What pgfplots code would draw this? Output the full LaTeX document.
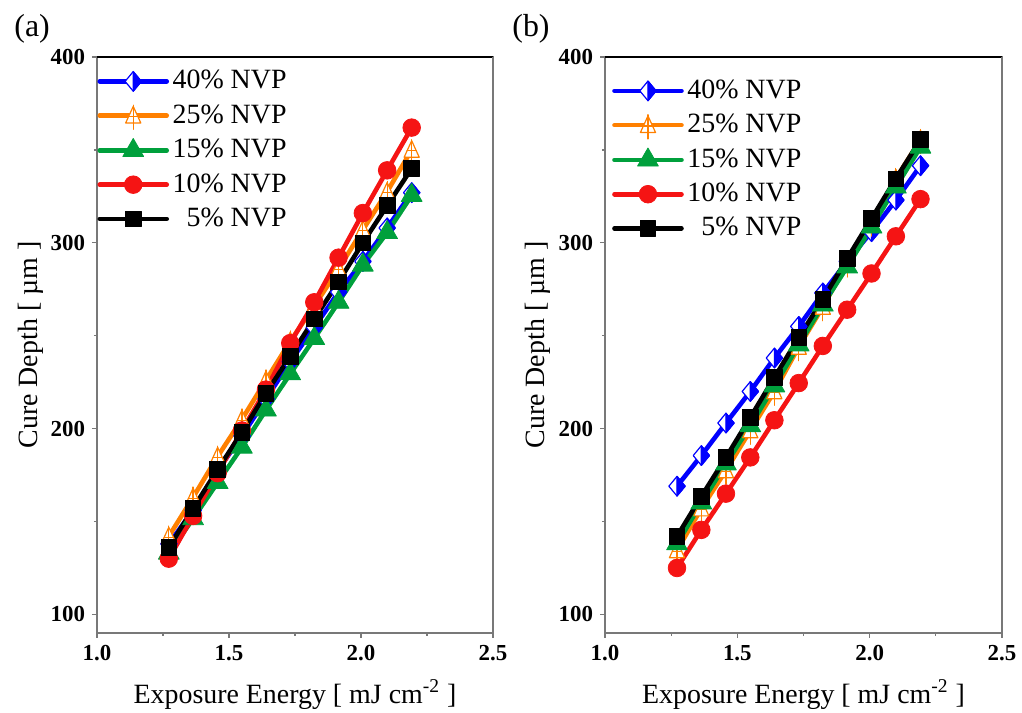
\documentclass[border=0pt]{standalone}
\usepackage{fontspec}
\setmainfont{Liberation Serif}
\usepackage{pgfplots}
\usepackage{pgfplotstable}
\pgfplotsset{compat=1.18}

\definecolor{cblue}{RGB}{0,0,255}
\definecolor{corange}{RGB}{255,128,0}
\definecolor{cgreen}{RGB}{0,160,60}
\definecolor{cred}{RGB}{245,20,20}
\definecolor{caxis}{RGB}{120,120,120}

\pgfdeclareplotmark{halfdiamond}{%
  \pgfpathmoveto{\pgfqpoint{0pt}{\pgfplotmarksize}}%
  \pgfpathlineto{\pgfqpoint{0.83\pgfplotmarksize}{0pt}}%
  \pgfpathlineto{\pgfqpoint{0pt}{-\pgfplotmarksize}}%
  \pgfpathlineto{\pgfqpoint{-0.83\pgfplotmarksize}{0pt}}%
  \pgfpathclose
  \pgfsetfillcolor{white}\pgfusepathqfillstroke
  \pgfpathmoveto{\pgfqpoint{0pt}{\pgfplotmarksize}}%
  \pgfpathlineto{\pgfqpoint{0.83\pgfplotmarksize}{0pt}}%
  \pgfpathlineto{\pgfqpoint{0pt}{-\pgfplotmarksize}}%
  \pgfpathclose
  \pgfsetfillcolor{cblue}\pgfusepathqfillstroke
}
\pgfdeclareplotmark{triplus}{%
  \pgfpathmoveto{\pgfqpoint{0pt}{\pgfplotmarksize}}%
  \pgfpathlineto{\pgfqpoint{0.82\pgfplotmarksize}{-0.8\pgfplotmarksize}}%
  \pgfpathlineto{\pgfqpoint{-0.82\pgfplotmarksize}{-0.8\pgfplotmarksize}}%
  \pgfpathclose
  \pgfsetfillcolor{white}\pgfusepathqfillstroke
  \pgfpathmoveto{\pgfqpoint{0pt}{1.12\pgfplotmarksize}}%
  \pgfpathlineto{\pgfqpoint{0pt}{-1.5\pgfplotmarksize}}%
  \pgfpathmoveto{\pgfqpoint{-0.5\pgfplotmarksize}{-0.1\pgfplotmarksize}}%
  \pgfpathlineto{\pgfqpoint{0.5\pgfplotmarksize}{-0.1\pgfplotmarksize}}%
  \pgfusepathqstroke
}

\pgfplotstableread{
x      blue   orange green  red    black
1.272  138    142    133    130    136
1.364  156    163    151.5  153    157
1.457  177.5  185    171    176    178
1.549  196    205    190    199    198
1.640  216    226    210    221    219
1.732  236    247    229.5  246    239
1.823  254.5  266    248.5  268    259
1.915  273.5  286    268    292    279
2.007  290    307    288    316    300
2.099  308    327.5  305.5  339    320
2.192  327    350    325.5  362    340
}\dataA

\pgfplotstableread{
x      blue   orange green  red    black
1.272  169    134.5  138    125    142
1.364  185.5  157    160    145.5  163.5
1.457  203    177.5  181    165    184.5
1.549  220    199    201.5  184.5  206
1.640  238    220    223    204.5  227.5
1.732  255    244    245    224.5  249
1.823  273    265.5  266.5  244.5  269.5
1.915  290    289    287    264    291.5
2.007  306    311    308.5  283.5  313
2.099  323    334.5  330    303.5  334.5
2.192  341.5  355.5  351.5  323.5  355.5
}\dataB

\pgfplotsset{
  panel/.style={
    scale only axis, height=288bp,
    xmin=1, xmax=2.5, ymin=90, ymax=400,
    xtick={1,1.5,2,2.5}, minor xtick={1.25,1.75,2.25},
    ytick={100,200,300,400}, minor ytick={150,250,350},
    tick pos=left, tick align=outside,
    major tick length=2.5bp, minor tick length=1.5bp,
    tick style={caxis, line width=0.6bp},
    axis line style={caxis, line width=0.75bp},
    xticklabel style={/pgf/number format/.cd, fixed, fixed zerofill, precision=1},
    /pgf/number format/assume math mode=true,
    ticklabel style={font=\fontsize{11.5}{12}\selectfont\bfseries},
    label style={font=\fontsize{14}{16}\selectfont},
    xlabel={Exposure Energy [ mJ cm\textsuperscript{-2} ]},
    ylabel={Cure Depth [ µm ]},
    xlabel style={at={(axis description cs:0.5,0)}, anchor=base, yshift=-35bp},
    ylabel style={at={(axis description cs:-0.1515,0.5)}, anchor=base},
    legend style={draw=none, fill=none, font=\fontsize{14}{16}\selectfont,
      row sep=4bp, anchor=north west,
      nodes={inner ysep=0.3bp, inner xsep=1.8bp, text height=10bp, text depth=2.5bp}},
    legend cell align=left,
    legend image code/.code={%
      \draw[mark repeat=2, mark phase=2] plot coordinates {(0bp,0bp) (16.75bp,0bp) (33.5bp,0bp)};},
    every axis plot/.append style={line width=2.3bp, line cap=round, line join=round},
  },
  sblue/.style={cblue, mark=halfdiamond, mark size=4.9bp, mark options={line width=0.6bp}},
  sorange/.style={corange, mark=triplus, mark size=4.6bp, mark options={line width=0.6bp}},
  sgreen/.style={cgreen, mark=triangle*, mark size=6bp, mark options={line width=0.4bp, fill=cgreen}},
  sred/.style={cred, mark=*, mark size=4.4bp, mark options={line width=0.4bp, fill=cred}},
  sblack/.style={black, mark=square*, mark size=3.9bp, mark options={line width=0.4bp, fill=black}},
}

\begin{document}
\begin{tikzpicture}
\useasboundingbox (0,0) rectangle (511bp,356.5bp);
\node[anchor=base west, font=\fontsize{16}{18}\selectfont, inner sep=0pt] at (7bp,338bp) {(a)};
\node[anchor=base west, font=\fontsize{16}{18}\selectfont, inner sep=0pt] at (256bp,338bp) {(b)};

\begin{axis}[panel, width=198bp, at={(48.5bp,40bp)}, anchor=south west,
  legend style={at={(axis description cs:-0.015,0.988)}}]
\addplot[sblue] table[x=x,y=blue] {\dataA};
\addplot[sorange] table[x=x,y=orange] {\dataA};
\addplot[sgreen] table[x=x,y=green] {\dataA};
\addplot[sred] table[x=x,y=red] {\dataA};
\addplot[sblack] table[x=x,y=black] {\dataA};
\legend{40\% NVP, 25\% NVP, 15\% NVP, 10\% NVP, \phantom{0}5\% NVP}
\draw[black, line width=0.75bp] (rel axis cs:0,1) -- (rel axis cs:1,1);
\draw[caxis, line width=0.75bp] (rel axis cs:1,1) -- (rel axis cs:1,0);
\end{axis}

\begin{axis}[panel, width=198.5bp, at={(302.5bp,40bp)}, anchor=south west,
  legend style={at={(axis description cs:0.002,0.9715)}}]
\addplot[sblue] table[x=x,y=blue] {\dataB};
\addplot[sorange] table[x=x,y=orange] {\dataB};
\addplot[sgreen] table[x=x,y=green] {\dataB};
\addplot[sred] table[x=x,y=red] {\dataB};
\addplot[sblack] table[x=x,y=black] {\dataB};
\legend{40\% NVP, 25\% NVP, 15\% NVP, 10\% NVP, \phantom{0}5\% NVP}
\draw[black, line width=0.75bp] (rel axis cs:0,1) -- (rel axis cs:1,1);
\draw[caxis, line width=0.75bp] (rel axis cs:1,1) -- (rel axis cs:1,0);
\end{axis}
\end{tikzpicture}
\end{document}
